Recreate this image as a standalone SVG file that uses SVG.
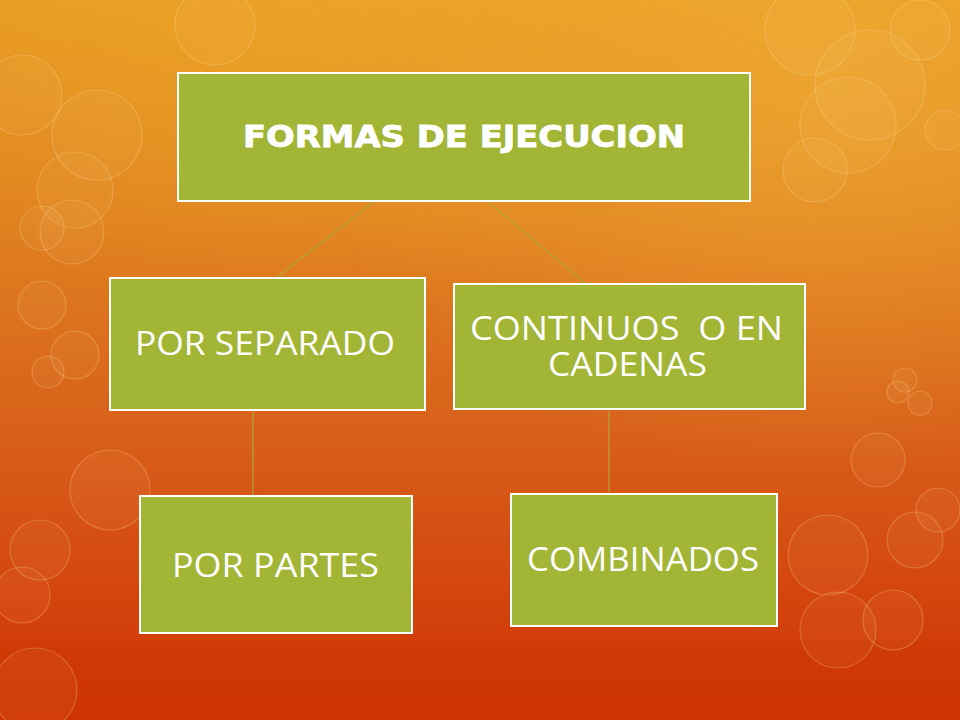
<svg xmlns="http://www.w3.org/2000/svg" width="960" height="720" viewBox="0 0 960 720">
  <defs>
    <linearGradient id="bg" x1="0" y1="0" x2="0" y2="1">
      <stop offset="0" stop-color="#E89C22"/>
      <stop offset="0.3" stop-color="#E08220"/>
      <stop offset="0.6" stop-color="#D8601A"/>
      <stop offset="0.85" stop-color="#D3420C"/>
      <stop offset="1" stop-color="#CF3505"/>
    </linearGradient>
    <radialGradient id="glow" cx="0.85" cy="0.1" r="0.55">
      <stop offset="0" stop-color="#F2B23A" stop-opacity="0.55"/>
      <stop offset="1" stop-color="#F2B23A" stop-opacity="0"/>
    </radialGradient>
    <radialGradient id="glow2" cx="0.3" cy="0.05" r="0.4">
      <stop offset="0" stop-color="#F0AA2A" stop-opacity="0.45"/>
      <stop offset="1" stop-color="#F0AA2A" stop-opacity="0"/>
    </radialGradient>
  </defs>
  <style>
    .bokeh { fill: #FFE9A8; fill-opacity: 0.05; stroke: #FFE2A0; stroke-opacity: 0.25; stroke-width: 1.2; }
    .node rect { fill: #A2B535; stroke: #FFFFFF; stroke-width: 2; }
    .node text { fill: #FFFFFF; font-family: "Open Sans", "DejaVu Sans", sans-serif; font-size: 33px; text-anchor: middle; }
    .node text.title { font-family: "DejaVu Sans", "Verdana", sans-serif; font-weight: bold; font-size: 30px; stroke: #FFFFFF; stroke-width: 0.8; }
    .conn line { stroke: #B0A53A; stroke-width: 1.2; }
  </style>
  <rect x="0" y="0" width="960" height="720" fill="url(#bg)"/>
  <rect x="0" y="0" width="960" height="720" fill="url(#glow)"/>
  <rect x="0" y="0" width="960" height="720" fill="url(#glow2)"/>
  <rect x="0" y="640" width="960" height="80" fill="#CC3300" fill-opacity="0.35"/>
  <g id="background-circles">
    <circle class="bokeh" cx="22" cy="95" r="40"/>
    <circle class="bokeh" cx="97" cy="135" r="45"/>
    <circle class="bokeh" cx="75" cy="190" r="38"/>
    <circle class="bokeh" cx="72" cy="232" r="32"/>
    <circle class="bokeh" cx="42" cy="228" r="22"/>
    <circle class="bokeh" cx="42" cy="305" r="24"/>
    <circle class="bokeh" cx="75" cy="355" r="24"/>
    <circle class="bokeh" cx="48" cy="372" r="16"/>
    <circle class="bokeh" cx="215" cy="25" r="40"/>
    <circle class="bokeh" cx="810" cy="30" r="45"/>
    <circle class="bokeh" cx="870" cy="85" r="55"/>
    <circle class="bokeh" cx="848" cy="125" r="48"/>
    <circle class="bokeh" cx="815" cy="170" r="32"/>
    <circle class="bokeh" cx="945" cy="130" r="20"/>
    <circle class="bokeh" cx="920" cy="30" r="30"/>
    <circle class="bokeh" cx="905" cy="380" r="12"/>
    <circle class="bokeh" cx="920" cy="403" r="12"/>
    <circle class="bokeh" cx="898" cy="392" r="11"/>
    <circle class="bokeh" cx="878" cy="460" r="27"/>
    <circle class="bokeh" cx="828" cy="555" r="40"/>
    <circle class="bokeh" cx="915" cy="540" r="28"/>
    <circle class="bokeh" cx="838" cy="630" r="38"/>
    <circle class="bokeh" cx="893" cy="620" r="30"/>
    <circle class="bokeh" cx="938" cy="510" r="22"/>
    <circle class="bokeh" cx="40" cy="550" r="30"/>
    <circle class="bokeh" cx="22" cy="595" r="28"/>
    <circle class="bokeh" cx="35" cy="690" r="42"/>
    <circle class="bokeh" cx="110" cy="490" r="40"/>
  </g>
  <g class="conn" id="connectors">
    <line x1="375" y1="201" x2="277" y2="277"/>
    <line x1="487" y1="201" x2="585" y2="283"/>
    <line x1="253" y1="411" x2="253" y2="495"/>
    <line x1="609" y1="411" x2="609" y2="492"/>
  </g>
  <g class="node" id="node-formas">
    <rect x="178" y="73" width="572" height="128"/>
    <text class="title" x="464" y="147" textLength="442" lengthAdjust="spacingAndGlyphs">FORMAS DE EJECUCION</text>
  </g>
  <g class="node" id="node-separado">
    <rect x="110" y="278" width="315" height="132"/>
    <text x="265" y="355" textLength="260" lengthAdjust="spacingAndGlyphs">POR SEPARADO</text>
  </g>
  <g class="node" id="node-continuos">
    <rect x="454" y="284" width="351" height="125"/>
    <text xml:space="preserve"><tspan x="626.5" y="340" textLength="313" lengthAdjust="spacingAndGlyphs">CONTINUOS  O EN</tspan><tspan x="627.5" y="376" textLength="159" lengthAdjust="spacingAndGlyphs">CADENAS</tspan></text>
  </g>
  <g class="node" id="node-partes">
    <rect x="140" y="496" width="272" height="137"/>
    <text x="275.5" y="577" textLength="207" lengthAdjust="spacingAndGlyphs">POR PARTES</text>
  </g>
  <g class="node" id="node-combinados">
    <rect x="511" y="494" width="266" height="132"/>
    <text x="643" y="571" textLength="232" lengthAdjust="spacingAndGlyphs">COMBINADOS</text>
  </g>
</svg>
